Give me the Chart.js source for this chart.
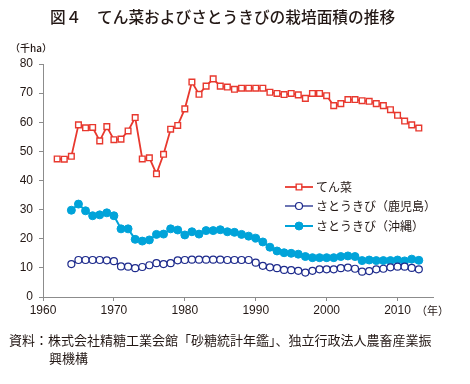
<!DOCTYPE html>
<html>
<head>
<meta charset="utf-8">
<script src="https://cdn.jsdelivr.net/npm/chart.js@4.4.1/dist/chart.umd.min.js"></script>
<style>
body{margin:0;background:#fff;width:470px;height:384px;position:relative;overflow:hidden;font-family:"Noto Sans CJK JP",sans-serif;color:#231815}
#wrap{position:absolute;left:0;top:0;width:470px;height:384px}
.t{position:absolute;white-space:nowrap}
</style>
</head>
<body>
<div id="wrap"><canvas id="c" width="470" height="384"></canvas></div>
<div class="t" style="left:50px;top:5px;font-size:15.7px;font-weight:500">図４　てん菜およびさとうきびの栽培面積の推移</div>
<div class="t" style="left:10px;top:40px;font-size:10px;font-weight:500">（千ha）</div>
<div class="t" style="left:416px;top:302px;font-size:11px">（年）</div>
<div class="t" style="left:9px;top:331px;font-size:13px;line-height:18px">資料：株式会社精糖工業会館「砂糖統計年鑑」、独立行政法人農畜産業振<br><span style="padding-left:40px">興機構</span></div>
<script>
// 年次
var years = [1962,1963,1964,1965,1966,1967,1968,1969,1970,1971,1972,1973,1974,1975,1976,1977,1978,1979,
  1980,1981,1982,1983,1984,1985,1986,1987,1988,1989,1990,1991,1992,1993,1994,1995,1996,1997,1998,1999,
  2000,2001,2002,2003,2004,2005,2006,2007,2008,2009,2010,2011,2012,2013];

// てん菜 (千ha) 1962-
var beet = [47.4,47.3,48.3,59.1,58.1,58.2,53.6,58.5,54.0,54.2,57.0,61.6,47.4,47.8,42.3,49.0,57.6,58.9,
  64.6,73.8,69.6,72.4,74.9,72.4,72.1,71.3,71.7,71.7,71.7,71.7,70.3,69.9,69.5,69.9,69.4,68.2,69.9,69.9,
  69.1,65.7,66.4,67.8,67.8,67.4,67.2,66.4,65.7,64.3,62.4,60.4,59.1,58.0];

// さとうきび（鹿児島） 1964-
var caneKagoshima = [null,null,11.3,12.7,12.7,12.7,12.7,12.6,12.3,10.5,10.4,9.9,10.3,10.9,11.6,11.3,11.6,12.6,
  12.7,12.8,12.8,12.8,12.8,12.8,12.7,12.7,12.7,12.7,11.8,10.7,10.2,9.9,9.3,9.2,9.0,8.4,9.0,9.5,
  9.5,9.5,9.9,10.1,9.7,8.7,8.9,9.5,9.7,10.2,10.4,10.4,10.0,9.5];

// さとうきび（沖縄） 1964-
var caneOkinawa = [null,null,29.8,31.9,29.6,27.9,28.2,28.9,27.9,23.4,23.4,19.8,19.2,19.6,21.5,21.6,23.4,23.0,
  21.3,22.4,21.6,22.8,22.8,23.1,22.4,22.2,21.5,20.9,20.2,18.9,17.1,15.8,15.2,15.0,14.7,13.9,13.5,13.5,
  13.5,13.5,13.9,14.1,13.9,12.5,12.7,12.5,12.5,12.5,12.7,12.4,13.0,12.6];

var xTicks = [1960,1970,1980,1990,2000,2010];
var yTicks = [0,10,20,30,40,50,60,70,80];
var seriesNames = ['てん菜','さとうきび（鹿児島）','さとうきび（沖縄）'];

function toPoints(arr){
  var out = [];
  for (var i = 0; i < years.length; i++) {
    out.push({x: years[i], y: arr[i]});
  }
  return out;
}

var RED = '#e8382e', NAVY = '#1d2a8c', CYAN = '#00a3d9', AXIS = '#8c8c8c';

var legendPlugin = {
  id: 'inLegend',
  afterDraw: function(chart){
    var ctx = chart.ctx;
    var rows = [187, 206, 226];
    ctx.save();
    chart.data.datasets.forEach(function(ds, i){
      var y = rows[i];
      ctx.strokeStyle = ds.borderColor;
      ctx.lineWidth = ds.borderWidth;
      ctx.beginPath();
      ctx.moveTo(285, y);
      ctx.lineTo(313, y);
      ctx.stroke();
      ctx.fillStyle = ds.pointBackgroundColor;
      ctx.strokeStyle = ds.pointBorderColor;
      ctx.lineWidth = ds.pointBorderWidth;
      Chart.helpers.drawPoint(ctx, {pointStyle: ds.pointStyle, radius: ds.pointRadius, borderWidth: ds.pointBorderWidth}, 299, y);
      ctx.fillStyle = '#231815';
      ctx.font = '12px "Noto Sans CJK JP"';
      ctx.textBaseline = 'middle';
      ctx.fillText(seriesNames[i], 316, y);
    });
    ctx.restore();
  }
};

new Chart(document.getElementById('c'), {
  type: 'line',
  data: {
    datasets: [{
      label: seriesNames[0],
      data: toPoints(beet),
      borderColor: RED, borderWidth: 1.8,
      pointStyle: 'rect', pointRadius: 4,
      pointBackgroundColor: '#fff', pointBorderColor: RED, pointBorderWidth: 1.4
    }, {
      label: seriesNames[1],
      data: toPoints(caneKagoshima),
      borderColor: NAVY, borderWidth: 1.3,
      pointStyle: 'circle', pointRadius: 3.5,
      pointBackgroundColor: '#fff', pointBorderColor: NAVY, pointBorderWidth: 1.2
    }, {
      label: seriesNames[2],
      data: toPoints(caneOkinawa),
      borderColor: CYAN, borderWidth: 2,
      pointStyle: 'circle', pointRadius: 4,
      pointBackgroundColor: CYAN, pointBorderColor: CYAN, pointBorderWidth: 1
    }]
  },
  options: {
    responsive: false,
    animation: false,
    layout: {padding: {left: 0, top: 64, right: 37, bottom: 0}},
    plugins: {legend: {display: false}, tooltip: {enabled: false}},
    scales: {
      x: {
        type: 'linear', min: 1960, max: 2015,
        afterBuildTicks: function(s){ s.ticks = xTicks.map(function(v){ return {value: v}; }); },
        afterFit: function(s){ s.height = 87; },
        ticks: {color: '#231815', font: {family: 'Liberation Sans', size: 12}, padding: 2, maxRotation: 0,
          callback: function(v){ return String(v); }},
        grid: {drawOnChartArea: false, color: AXIS, tickLength: 4},
        border: {color: AXIS}
      },
      y: {
        min: 0, max: 80,
        afterBuildTicks: function(s){ s.ticks = yTicks.map(function(v){ return {value: v}; }); },
        afterFit: function(s){ s.width = 43; },
        ticks: {color: '#231815', font: {family: 'Liberation Sans', size: 12}, padding: 6},
        grid: {drawOnChartArea: false, color: AXIS, tickLength: 4},
        border: {color: AXIS}
      }
    }
  },
  plugins: [legendPlugin]
});
</script>
</body>
</html>
